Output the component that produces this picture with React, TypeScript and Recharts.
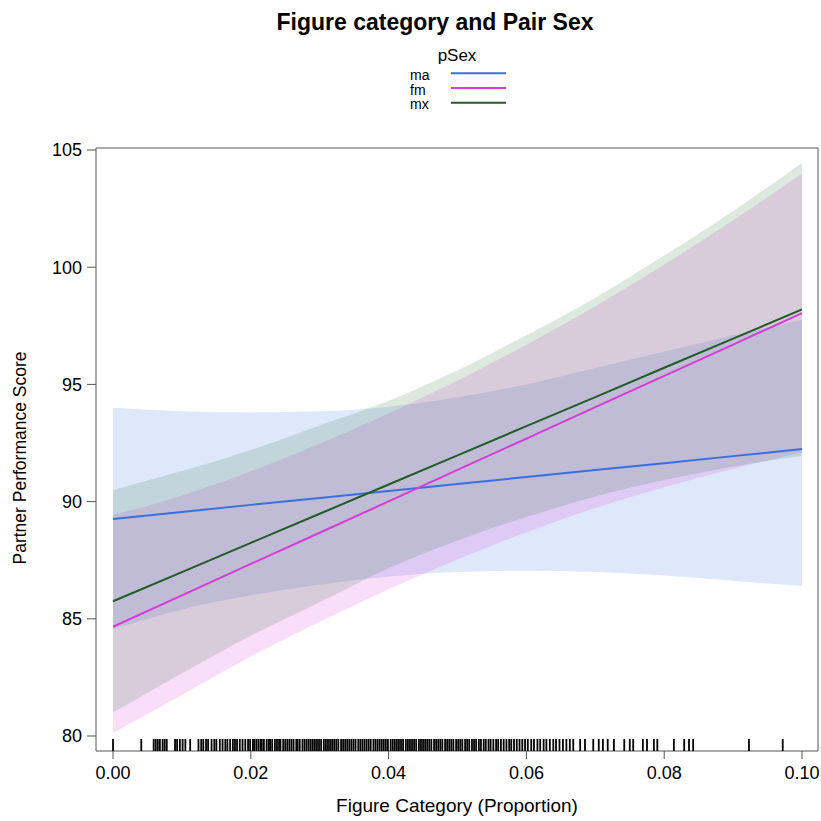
import React from "react";
import { ComposedChart, Area, Line, Scatter, XAxis, YAxis } from "recharts";

const xs = [0, 0.01, 0.02, 0.03, 0.04, 0.05, 0.06, 0.07, 0.08, 0.09, 0.1];

const maFit = [89.26, 89.56, 89.86, 90.15, 90.45, 90.75, 91.05, 91.35, 91.64, 91.94, 92.24];
const maUpper = [94.0, 93.85, 93.8, 93.85, 94.05, 94.45, 95.0, 95.7, 96.4, 97.1, 97.75];
const maLower = [84.55, 85.4, 86.0, 86.45, 86.8, 87.0, 87.05, 87.0, 86.85, 86.62, 86.4];

const fmFit = [84.66, 86.0, 87.34, 88.67, 90.01, 91.35, 92.69, 94.03, 95.36, 96.7, 98.04];
const fmUpper = [89.43, 90.25, 91.29, 92.47, 93.76, 95.17, 96.69, 98.33, 100.11, 102.0, 104.0];
const fmLower = [80.13, 81.75, 83.39, 84.87, 86.26, 87.53, 88.69, 89.73, 90.61, 91.4, 92.1];

const mxFit = [85.75, 86.99, 88.24, 89.48, 90.73, 91.97, 93.22, 94.46, 95.71, 96.95, 98.2];
const mxUpper = [90.5, 91.3, 92.2, 93.25, 94.3, 95.6, 97.1, 98.7, 100.5, 102.4, 104.45];
const mxLower = [81.0, 82.68, 84.28, 85.71, 87.16, 88.34, 89.34, 90.22, 90.92, 91.5, 91.95];

const rugValues = [
  0.0, 0.0041, 0.0059, 0.0062, 0.0065, 0.0068, 0.0072, 0.0075, 0.0078, 0.009, 0.0093, 0.0097,
  0.0101, 0.0105, 0.0112, 0.0124, 0.0128, 0.0131, 0.0135, 0.0138, 0.0143, 0.0147, 0.015, 0.0155,
  0.0159, 0.0163, 0.0166, 0.017, 0.0174, 0.0177, 0.018, 0.0184, 0.0188, 0.0192, 0.0196, 0.0199,
  0.0203, 0.0205, 0.0208, 0.0211, 0.0214, 0.0216, 0.0219, 0.0223, 0.0226, 0.0228, 0.0231, 0.0235,
  0.0238, 0.0241, 0.0243, 0.0247, 0.025, 0.0253, 0.0256, 0.0259, 0.0262, 0.0266, 0.0268, 0.0271,
  0.0275, 0.0278, 0.0281, 0.0284, 0.0287, 0.029, 0.0293, 0.0296, 0.0299, 0.0302, 0.0306, 0.0309,
  0.0312, 0.0315, 0.0318, 0.0321, 0.0324, 0.0327, 0.0331, 0.0334, 0.0337, 0.034, 0.0343, 0.0346,
  0.0349, 0.0352, 0.0356, 0.0359, 0.0362, 0.0365, 0.0368, 0.0371, 0.0374, 0.0378, 0.0381, 0.0384,
  0.0387, 0.039, 0.0393, 0.0396, 0.0399, 0.0403, 0.0406, 0.0409, 0.0412, 0.0415, 0.0418, 0.0421,
  0.0425, 0.0428, 0.0431, 0.0434, 0.0437, 0.044, 0.0444, 0.0447, 0.045, 0.0453, 0.0456, 0.0459,
  0.0462, 0.0466, 0.0469, 0.0472, 0.0475, 0.0478, 0.0482, 0.0485, 0.0488, 0.0491, 0.0494, 0.0498,
  0.0501, 0.0504, 0.0507, 0.0511, 0.0514, 0.0517, 0.0521, 0.0524, 0.0527, 0.0531, 0.0534, 0.0538,
  0.0541, 0.0545, 0.0548, 0.0552, 0.0556, 0.0559, 0.0563, 0.0567, 0.0571, 0.0575, 0.0578, 0.0582,
  0.0586, 0.059, 0.0594, 0.0598, 0.0602, 0.0607, 0.0611, 0.0616, 0.062, 0.0625, 0.0629, 0.0634,
  0.0639, 0.0643, 0.0648, 0.0653, 0.0658, 0.0663, 0.0668, 0.0678, 0.0685, 0.0697, 0.0705, 0.0711,
  0.0718, 0.0727, 0.0742, 0.075, 0.0755, 0.0769, 0.0775, 0.0785, 0.079, 0.0814, 0.0829, 0.0836,
  0.0842, 0.0923, 0.0972,
];

const X_TICKS = [0, 0.02, 0.04, 0.06, 0.08, 0.1];
const Y_TICKS = [80, 85, 90, 95, 100, 105];
const X_DOMAIN: [number, number] = [-0.00247, 0.10232];
const Y_DOMAIN: [number, number] = [79.36, 105.085];

const SERIES = [
  { key: "ma", color: "#3a6fe0", fill: "#3a78e8", opacity: 0.17 },
  { key: "fm", color: "#d63cd6", fill: "#e040e0", opacity: 0.18 },
  { key: "mx", color: "#1f5c26", fill: "#1e6b2a", opacity: 0.15 },
];

const data = xs.map((x, i) => ({
  x,
  maFit: maFit[i],
  maBand: [maLower[i], maUpper[i]],
  fmFit: fmFit[i],
  fmBand: [fmLower[i], fmUpper[i]],
  mxFit: mxFit[i],
  mxBand: [mxLower[i], mxUpper[i]],
}));

const rugData = rugValues.map((v) => ({ x: v, y: Y_DOMAIN[0] }));

const FONT = "'Liberation Sans', Arial, Helvetica, sans-serif";

const RugTick = (props: any) => {
  const { cx, cy } = props;
  return <line x1={cx} x2={cx} y1={cy} y2={cy - 12} stroke="#000" strokeWidth={1.8} />;
};

export default function App() {
  const axisStroke = "#555";
  return (
    <div style={{ position: "absolute", left: 0, top: 0, width: 821, height: 821, background: "#fff", fontFamily: FONT }}>
      <ComposedChart width={821} height={821} data={data} margin={{ top: 0, right: 0, bottom: 0, left: 0 }}>
        <XAxis
          xAxisId="b"
          type="number"
          dataKey="x"
          orientation="bottom"
          domain={X_DOMAIN}
          allowDataOverflow
          ticks={X_TICKS}
          height={70}
          tickSize={8}
          tickMargin={7}
          stroke={axisStroke}
          tick={{ fill: "#000", fontSize: 18, fontFamily: FONT }}
          tickFormatter={(v: number) => v.toFixed(2)}
        />
        <XAxis
          xAxisId="t"
          type="number"
          dataKey="x"
          orientation="top"
          domain={X_DOMAIN}
          allowDataOverflow
          ticks={X_TICKS}
          height={148}
          tickSize={10}
          stroke={axisStroke}
          tick={false}
        />
        <YAxis
          yAxisId="l"
          type="number"
          orientation="left"
          domain={Y_DOMAIN}
          allowDataOverflow
          ticks={Y_TICKS}
          width={96}
          tickSize={9}
          tickMargin={5}
          stroke={axisStroke}
          tick={{ fill: "#000", fontSize: 18, fontFamily: FONT }}
        />
        <YAxis
          yAxisId="r"
          type="number"
          orientation="right"
          domain={Y_DOMAIN}
          allowDataOverflow
          ticks={Y_TICKS}
          width={3}
          tickSize={8}
          stroke={axisStroke}
          tick={false}
        />
        {SERIES.map((s) => (
          <Area
            key={s.key + "band"}
            xAxisId="b"
            yAxisId="l"
            type="monotone"
            dataKey={s.key + "Band"}
            stroke="none"
            fill={s.fill}
            fillOpacity={s.opacity}
            isAnimationActive={false}
            activeDot={false}
          />
        ))}
        {SERIES.map((s) => (
          <Line
            key={s.key + "line"}
            xAxisId="b"
            yAxisId="l"
            type="linear"
            dataKey={s.key + "Fit"}
            stroke={s.color}
            strokeWidth={2}
            dot={false}
            activeDot={false}
            isAnimationActive={false}
          />
        ))}
        <Scatter
          xAxisId="b"
          yAxisId="l"
          data={rugData}
          dataKey="y"
          shape={RugTick}
          isAnimationActive={false}
        />
      </ComposedChart>
      <svg
        width={821}
        height={821}
        style={{ position: "absolute", left: 0, top: 0, pointerEvents: "none" }}
        fontFamily={FONT}
      >
        <text x={435} y={22} textAnchor="middle" dominantBaseline="central" fontSize={23} fontWeight="bold" fill="#000">
          Figure category and Pair Sex
        </text>
        <text x={457} y={55} textAnchor="middle" dominantBaseline="central" fontSize={17} fill="#000">
          pSex
        </text>
        {SERIES.map((s, i) => (
          <g key={s.key + "leg"}>
            <text x={410} y={75 + i * 14.5} dominantBaseline="central" fontSize={14} fill="#000">
              {s.key}
            </text>
            <line x1={451} x2={506} y1={73.3 + i * 14.7} y2={73.3 + i * 14.7} stroke={s.color} strokeWidth={2} />
          </g>
        ))}
        <text
          x={20}
          y={458}
          transform="rotate(-90 20 458)"
          textAnchor="middle"
          dominantBaseline="central"
          fontSize={17.5}
          fill="#000"
        >
          Partner Performance Score
        </text>
        <text x={457} y={805} textAnchor="middle" dominantBaseline="central" fontSize={19} fill="#000">
          Figure Category (Proportion)
        </text>
      </svg>
    </div>
  );
}
